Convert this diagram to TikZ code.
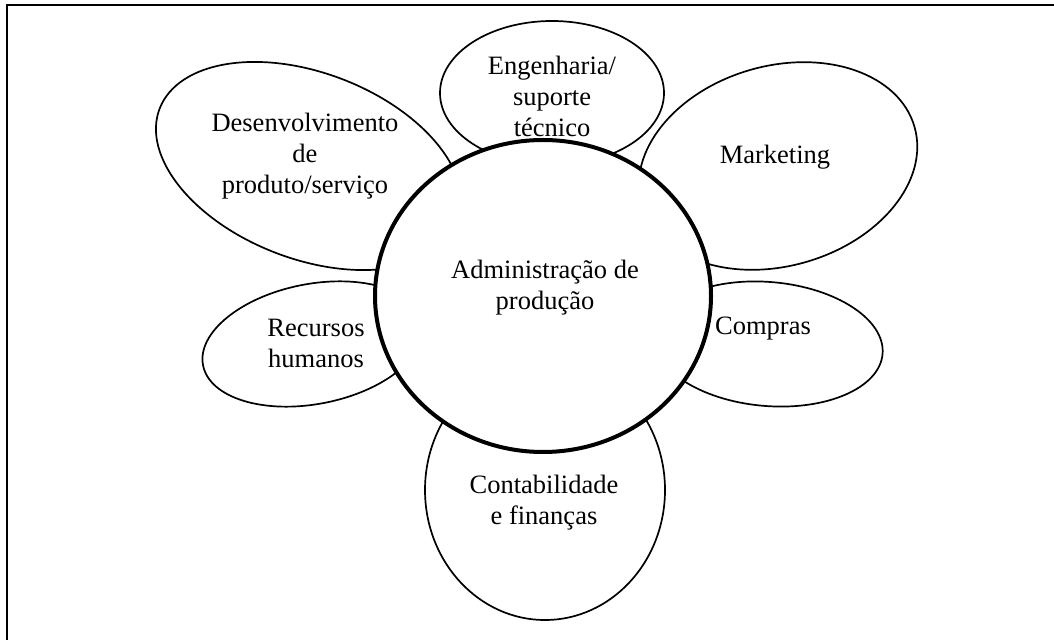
\documentclass[tikz,border=0pt]{standalone}
\usepackage{fontspec}
\setmainfont{Liberation Serif}
\begin{document}
\begin{tikzpicture}[
            x={(0.5pt,0pt)},
            y={(0pt,-0.5pt)},
            petal/.style={draw=black, line width=0.85pt, fill=white},
            core/.style={draw=black, line width=2pt, fill=white},
            txt/.style={align=center, inner sep=0pt, font=\fontsize{13.25}{15.5}\selectfont}
        ]
        \useasboundingbox (0,0) rectangle (1054,640);

        % frame
        \coordinate (F1) at (7,640);
        \coordinate (F2) at (7,5);
        \coordinate (F3) at (1054,5);
        \draw[line width=1pt] (F1) -- (F2) -- (F3);

        % petals
        \draw[petal, rotate around={-21:(309,166)}] (309,166) ellipse [x radius=160, y radius=93];
        \draw[petal] (552,93) ellipse [x radius=112, y radius=72];
        \draw[petal, rotate around={16:(778,166)}] (778,166) ellipse [x radius=142, y radius=100];
        \draw[petal, rotate around={-5:(768,344)}] (768,344) ellipse [x radius=115, y radius=62];
        \draw[petal, rotate around={11:(313,344)}] (313,344) ellipse [x radius=112, y radius=60];
        \draw[petal] (545,490) ellipse [x radius=120, y radius=130];

        % centre
        \draw[core] (543,296) ellipse [x radius=168, y radius=156];

        \node[txt] (adm) at (545,288) {Administração de\\produção};
        \node[txt] (desenv) at (305,156) {Desenvolvimento\\de\\produto/serviço};
        \node[txt] (eng) at (552,96) {Engenharia/\\suporte\\técnico};
        \node[txt] (mkt) at (775,157) {Marketing};
        \node[txt] (compras) at (763,329) {Compras};
        \node[txt] (rh) at (316,343) {Recursos\\humanos};
        \node[txt] (contab) at (544,503) {Contabilidade\\e finanças};

    \end{tikzpicture}
\end{document}
